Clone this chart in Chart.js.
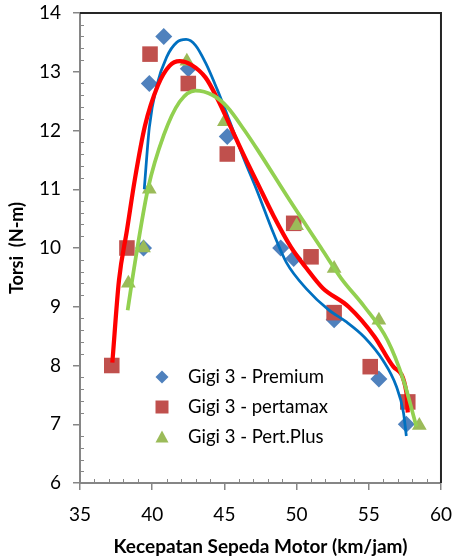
<!DOCTYPE html>
<html>
<head>
<meta charset="utf-8">
<title>Torsi vs Kecepatan</title>
<script src="https://cdn.jsdelivr.net/npm/chart.js@4"></script>
<style>
    body { margin: 0; background: #fff; }
    #wrap { width: 465px; height: 558px; }
</style>
</head>
<body>
<div id="wrap"><canvas id="myChart" width="465" height="558"></canvas></div>
<script>
// measured points (km/jam, N-m)
const premiumSpeed = [39.4, 39.8, 40.8, 42.5, 45.2, 48.9, 49.8, 52.6, 55.7, 57.6];
const premiumTorque = [10.0, 12.8, 13.6, 13.05, 11.9, 10.0, 9.82, 8.78, 7.77, 7.0];

const pertamaxSpeed = [37.2, 38.25, 39.85, 42.5, 45.2, 49.8, 51.0, 52.6, 55.1, 57.7];
const pertamaxTorque = [8.0, 10.0, 13.3, 12.8, 11.6, 10.42, 9.85, 8.9, 7.98, 7.38];

const plusSpeed = [38.35, 39.4, 39.8, 42.4, 45.0, 50.0, 52.6, 55.7, 58.5];
const plusTorque = [9.4, 10.0, 11.0, 13.18, 12.15, 10.38, 9.65, 8.77, 6.98];

// trend lines
const premiumTrendX = [39.45, 39.8, 40.3, 41.0, 41.7, 42.35, 43.0, 43.7, 44.5, 45.3, 46.3, 47.3, 48.4, 49.3, 50.7, 52.2, 53.4, 54.7, 56.0, 56.9, 57.4, 57.6];
const premiumTrendY = [11.0, 12.05, 12.75, 13.25, 13.5, 13.55, 13.45, 13.15, 12.7, 12.2, 11.55, 10.95, 10.25, 9.75, 9.3, 8.95, 8.75, 8.48, 8.08, 7.65, 7.2, 6.8];

const pertamaxTrendX = [37.24, 37.7, 38.25, 38.8, 39.5, 40.4, 41.2, 41.9, 42.7, 43.7, 44.5, 45.4, 46.4, 47.3, 48.4, 49.6, 50.7, 51.8, 53.6, 55.4, 56.7, 57.6, 57.7];
const pertamaxTrendY = [8.05, 9.45, 10.3, 11.17, 12.08, 12.77, 13.1, 13.18, 13.12, 12.9, 12.55, 12.08, 11.55, 11.1, 10.55, 10.02, 9.65, 9.32, 9.0, 8.49, 7.98, 7.55, 7.2];

const plusTrendX = [38.3, 38.8, 39.7, 40.8, 41.9, 43.0, 44.2, 45.2, 46.4, 47.3, 49.5, 51.7, 53.1, 54.7, 56.3, 57.4, 58.3];
const plusTrendY = [8.94, 9.74, 11.0, 11.92, 12.49, 12.68, 12.6, 12.4, 12.0, 11.67, 10.82, 10.0, 9.48, 9.0, 8.43, 7.75, 6.96];

const seriesNames = ["Gigi 3 - Premium", "Gigi 3 - pertamax", "Gigi 3 - Pert.Plus"];

const xRange = [35, 60];
const yRange = [6, 14];

function toPoints(xs, ys) {
    return xs.map((x, i) => ({ x: x, y: ys[i] }));
}

const markerColors = ["#4F81BD", "#C0504D", "#9BBB59"];
const markerShapes = ["rectRot", "rect", "triangle"];

function drawMarker(ctx, shape, x, y, r) {
    ctx.beginPath();
    if (shape === "rectRot") {
        ctx.moveTo(x, y - r);
        ctx.lineTo(x + r, y);
        ctx.lineTo(x, y + r);
        ctx.lineTo(x - r, y);
    } else if (shape === "rect") {
        ctx.rect(x - r, y - r, 2 * r, 2 * r);
    } else {
        ctx.moveTo(x, y - r);
        ctx.lineTo(x + r, y + r * 0.85);
        ctx.lineTo(x - r, y + r * 0.85);
    }
    ctx.closePath();
    ctx.fill();
}

// minor ticks, top/right frame and the in-plot legend
const decorPlugin = {
    id: "decor",
    afterDatasetsDraw(chart) {
        const ctx = chart.ctx;
        const area = chart.chartArea;
        const xs = chart.scales.x;
        const ys = chart.scales.y;

        ctx.save();
        ctx.strokeStyle = "#868686";
        ctx.lineWidth = 1;
        for (let v = xRange[0] + 1; v < xRange[1]; v++) {
            if (v % 5 === 0) continue;
            const px = Math.round(xs.getPixelForValue(v)) + 0.5;
            ctx.beginPath();
            ctx.moveTo(px, area.bottom);
            ctx.lineTo(px, area.bottom - 4);
            ctx.stroke();
        }
        for (let i = 1; i < (yRange[1] - yRange[0]) * 5; i++) {
            if (i % 5 === 0) continue;
            const py = Math.round(ys.getPixelForValue(yRange[0] + i * 0.2)) + 0.5;
            ctx.beginPath();
            ctx.moveTo(area.left, py);
            ctx.lineTo(area.left + 4, py);
            ctx.stroke();
        }

        ctx.strokeStyle = "#262626";
        ctx.lineWidth = 2;
        ctx.beginPath();
        ctx.moveTo(area.left, area.top);
        ctx.lineTo(area.right, area.top);
        ctx.lineTo(area.right, area.bottom);
        ctx.stroke();

        const legendRows = [377, 407, 437];
        ctx.font = "18.5px Lato";
        ctx.textBaseline = "middle";
        seriesNames.forEach((name, i) => {
            ctx.fillStyle = markerColors[i];
            drawMarker(ctx, markerShapes[i], 162, legendRows[i], 6.5);
            ctx.fillStyle = "#000";
            ctx.fillText(name, 188, legendRows[i]);
        });
        ctx.restore();
    },
};

document.addEventListener("DOMContentLoaded", function () {
    const ctx = document.getElementById("myChart");

    const trendStyle = {
        showLine: true,
        pointRadius: 0,
        cubicInterpolationMode: "monotone",
    };

    new Chart(ctx, {
        type: "scatter",
        data: {
            datasets: [
                Object.assign({
                    label: "trend " + seriesNames[0],
                    data: toPoints(premiumTrendX, premiumTrendY),
                    borderColor: "#0070C0",
                    borderWidth: 2.75,
                    order: 3,
                }, trendStyle),
                Object.assign({
                    label: "trend " + seriesNames[1],
                    data: toPoints(pertamaxTrendX, pertamaxTrendY),
                    borderColor: "#FF0000",
                    borderWidth: 4.25,
                    order: 2,
                }, trendStyle),
                Object.assign({
                    label: "trend " + seriesNames[2],
                    data: toPoints(plusTrendX, plusTrendY),
                    borderColor: "#92D050",
                    borderWidth: 3.75,
                    order: 1,
                }, trendStyle),
                {
                    label: seriesNames[0],
                    data: toPoints(premiumSpeed, premiumTorque),
                    pointStyle: "rectRot",
                    pointRadius: 8.5,
                    backgroundColor: markerColors[0],
                    borderColor: markerColors[0],
                    borderWidth: 0,
                    order: 10,
                },
                {
                    label: seriesNames[1],
                    data: toPoints(pertamaxSpeed, pertamaxTorque),
                    pointStyle: "rect",
                    pointRadius: 11,
                    backgroundColor: markerColors[1],
                    borderColor: markerColors[1],
                    borderWidth: 0,
                    order: 9,
                },
                {
                    label: seriesNames[2],
                    data: toPoints(plusSpeed, plusTorque),
                    pointStyle: "triangle",
                    pointRadius: 8.5,
                    backgroundColor: markerColors[2],
                    borderColor: markerColors[2],
                    borderWidth: 0,
                    order: 8,
                },
            ],
        },
        options: {
            responsive: false,
            animation: false,
            layout: {
                padding: { top: 13, right: 13, left: 0, bottom: 0 },
            },
            plugins: {
                legend: { display: false },
                tooltip: { enabled: false },
            },
            scales: {
                x: {
                    type: "linear",
                    min: xRange[0],
                    max: xRange[1],
                    afterFit: (scale) => { scale.height = 75; },
                    ticks: {
                        stepSize: 5,
                        color: "#000",
                        font: { family: "Lato", size: 19 },
                        padding: 13,
                    },
                    grid: {
                        drawOnChartArea: false,
                        tickLength: 7,
                        color: "#868686",
                        lineWidth: 1.5,
                    },
                    border: { color: "#868686", width: 2 },
                    title: {
                        display: true,
                        text: "Kecepatan Sepeda Motor (km/jam)",
                        color: "#000",
                        font: { family: "Lato", size: 19, weight: "bold" },
                        padding: { top: 0, bottom: 0 },
                    },
                },
                y: {
                    min: yRange[0],
                    max: yRange[1],
                    afterFit: (scale) => {
                        scale.width = 80;
                        scale.paddingTop = 0;
                        scale.paddingBottom = 0;
                    },
                    ticks: {
                        stepSize: 1,
                        color: "#000",
                        font: { family: "Lato", size: 19 },
                        padding: 12,
                    },
                    grid: {
                        drawOnChartArea: false,
                        tickLength: 7,
                        color: "#868686",
                        lineWidth: 1.5,
                    },
                    border: { color: "#868686", width: 2 },
                    title: {
                        display: true,
                        text: "Torsi  (N-m)",
                        color: "#000",
                        font: { family: "Lato", size: 18, weight: "bold" },
                        padding: { top: 6, bottom: 0 },
                    },
                },
            },
        },
        plugins: [decorPlugin],
    });
});
</script>
</body>
</html>
